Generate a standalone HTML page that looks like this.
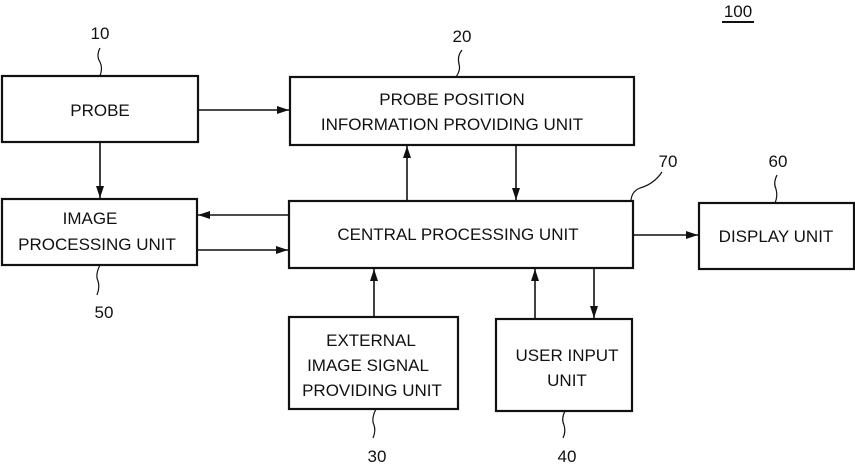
<!DOCTYPE html>
<html><head><style>html,body{margin:0;padding:0;background:#fff}svg{display:block}</style></head><body>
<svg width="855" height="464" xmlns="http://www.w3.org/2000/svg" font-family="Liberation Sans, Arial, sans-serif" font-size="17" fill="#111">
<defs><marker id="a" markerWidth="12" markerHeight="8" refX="12" refY="4" orient="auto" markerUnits="userSpaceOnUse"><path d="M0,0 L12,4 L0,8 z" fill="#111"/></marker></defs>
<g fill="none" stroke="#111" stroke-width="2.2">
<rect x="2" y="76" width="196" height="66"/>
<rect x="290" y="77" width="344" height="68"/>
<rect x="2" y="199" width="195" height="66"/>
<rect x="289" y="201" width="344" height="67"/>
<rect x="699" y="203" width="155" height="66"/>
<rect x="289" y="317" width="169" height="92"/>
<rect x="496" y="319" width="136" height="92"/>
</g>
<g stroke="#111" stroke-width="1.6" fill="none" marker-end="url(#a)">
<line x1="198" y1="110" x2="289" y2="110"/>
<line x1="100" y1="142" x2="100" y2="198"/>
<line x1="289" y1="215" x2="198" y2="215"/>
<line x1="197" y1="250" x2="288" y2="250"/>
<line x1="407" y1="201" x2="407" y2="146"/>
<line x1="516" y1="145" x2="516" y2="200"/>
<line x1="633" y1="235" x2="698" y2="235"/>
<line x1="374" y1="317" x2="374" y2="269"/>
<line x1="535" y1="319" x2="535" y2="269"/>
<line x1="594" y1="268" x2="594" y2="318"/>
</g>
<g stroke="#111" stroke-width="1.2" fill="none">
<path d="M100,48 q-4,8 0,14 q3,6 0,14"/>
<path d="M462,50 q-5,6 -3,14 q2,6 -3,13"/>
<path d="M662,172 q-8,12 -22,16 q-8,3 -9,12"/>
<path d="M777,175 q-4,8 -1,14 q2,7 -1,14"/>
<path d="M100,265 q-5,10 -2,16 q2,6 -1,14"/>
<path d="M376,409 q-5,10 -2,16 q2,6 -1,13"/>
<path d="M565,411 q-4,8 -1,14 q2,7 -1,13"/>
<line x1="722" y1="22" x2="754" y2="22" stroke-width="2"/>
</g>
<g text-anchor="middle">
<text x="100" y="39">10</text>
<text x="462" y="42">20</text>
<text x="668" y="167">70</text>
<text x="778" y="167">60</text>
<text x="104" y="318">50</text>
<text x="377" y="462">30</text>
<text x="567" y="462">40</text>
<text x="738" y="17">100</text>
<text x="100" y="116">PROBE</text>
<text x="452" y="105">PROBE POSITION</text>
<text x="452" y="130">INFORMATION PROVIDING UNIT</text>
<text x="90" y="224">IMAGE</text>
<text x="97" y="250">PROCESSING UNIT</text>
<text x="458" y="240">CENTRAL PROCESSING UNIT</text>
<text x="776" y="242">DISPLAY UNIT</text>
<text x="371" y="346">EXTERNAL</text>
<text x="368" y="371">IMAGE SIGNAL</text>
<text x="372" y="396">PROVIDING UNIT</text>
<text x="567" y="361">USER INPUT</text>
<text x="567" y="386">UNIT</text>
</g>
</svg>
</body></html>
